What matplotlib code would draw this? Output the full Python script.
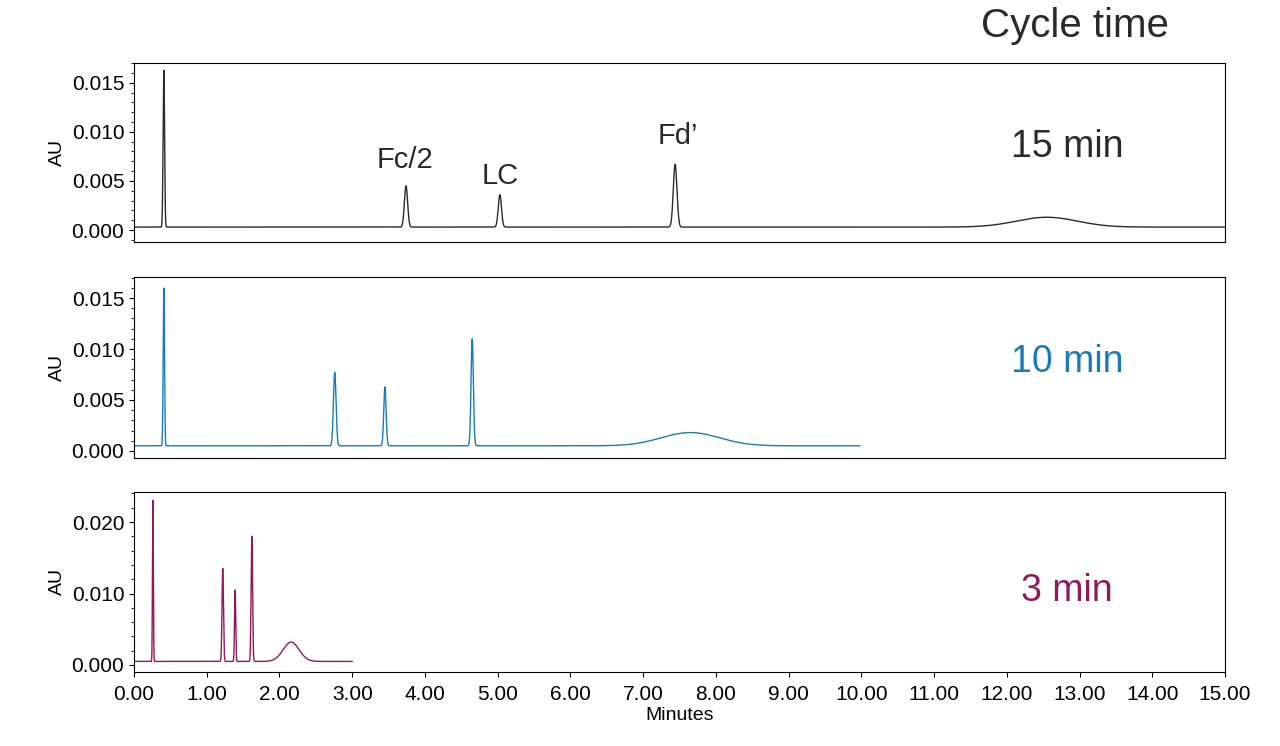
import numpy as np
import matplotlib
matplotlib.use("Agg")
import matplotlib.pyplot as plt
from matplotlib.ticker import AutoMinorLocator

plt.rcParams["font.family"] = "Liberation Sans"

# Peak tables: (retention time, height, width)
p15_t = [0.41, 3.74, 5.03, 7.44, 12.55]
p15_h = [0.0160, 0.0042, 0.0033, 0.0064, 0.0010]
p15_w = [0.010, 0.022, 0.022, 0.025, 0.42]
p10_t = [0.41, 2.76, 3.45, 4.65, 7.65]
p10_h = [0.0155, 0.0072, 0.0058, 0.0105, 0.0013]
p10_w = [0.009, 0.018, 0.016, 0.016, 0.40]
p3_t = [0.26, 1.22, 1.39, 1.62, 2.16]
p3_h = [0.0225, 0.0130, 0.0100, 0.0175, 0.0027]
p3_w = [0.006, 0.010, 0.008, 0.010, 0.11]
run_end = [15.0, 9.98, 3.0]
baseline = [0.0003, 0.0005, 0.0005]
labels = ["15 min", "10 min", "3 min"]
colors = ["#2a2a2a", "#1b7bb7", "#8e1a5c"]
ylims = [(-0.00122, 0.0170), (-0.0007, 0.01706), (-0.00098, 0.0242)]
yticks = [[0, 0.005, 0.010, 0.015], [0, 0.005, 0.010, 0.015], [0, 0.010, 0.020]]
ytl = [["0.000", "0.005", "0.010", "0.015"], ["0.000", "0.005", "0.010", "0.015"], ["0.000", "0.010", "0.020"]]
xticks = np.arange(0, 16)

fig = plt.figure(figsize=(12.8, 7.46), dpi=100)
pos = [[0.1047, 0.6756, 0.8523, 0.2399], [0.1047, 0.386, 0.8523, 0.2426], [0.1047, 0.0992, 0.8523, 0.2413]]
peaks = [(p15_t, p15_h, p15_w), (p10_t, p10_h, p10_w), (p3_t, p3_h, p3_w)]
for i in range(3):
    ax = fig.add_axes(pos[i])
    x = np.linspace(0, run_end[i], 8000)
    y = np.full_like(x, baseline[i])
    for t, h, w in zip(*peaks[i]):
        y += h * np.exp(-0.5 * ((x - t) / w) ** 2)
    ax.plot(x, y, color=colors[i], lw=1)
    ax.set_xlim(0, 15)
    ax.set_ylim(*ylims[i])
    ax.set_yticks(yticks[i])
    ax.set_yticklabels(ytl[i], fontsize=15)
    ax.set_ylabel("AU", fontsize=14)
    ax.yaxis.set_minor_locator(AutoMinorLocator(5))
    ax.tick_params(which="both", direction="out")
    if i < 2:
        ax.set_xticks([])
    else:
        ax.set_xticks(xticks)
        ax.set_xticklabels([f"{v:.2f}" for v in xticks], fontsize=15)
        ax.tick_params(axis="x", pad=6)
        ax.set_xlabel("Minutes", fontsize=14, labelpad=2)
    ax.text(0.855, 0.53 if i < 2 else 0.45, labels[i], transform=ax.transAxes,
            ha="center", va="center", fontsize=27, color=colors[i])
    if i == 0:
        ax.text(3.73, 0.0063, "Fc/2", fontsize=21, ha="center", color="#2a2a2a")
        ax.text(5.03, 0.0047, "LC", fontsize=21, ha="center", color="#2a2a2a")
        ax.text(7.48, 0.0088, "Fd\u2019", fontsize=21, ha="center", color="#2a2a2a")
fig.text(0.84, 0.965, "Cycle time", fontsize=29, ha="center", va="center", color="#2a2a2a")
fig.savefig("out.png", dpi=100)
